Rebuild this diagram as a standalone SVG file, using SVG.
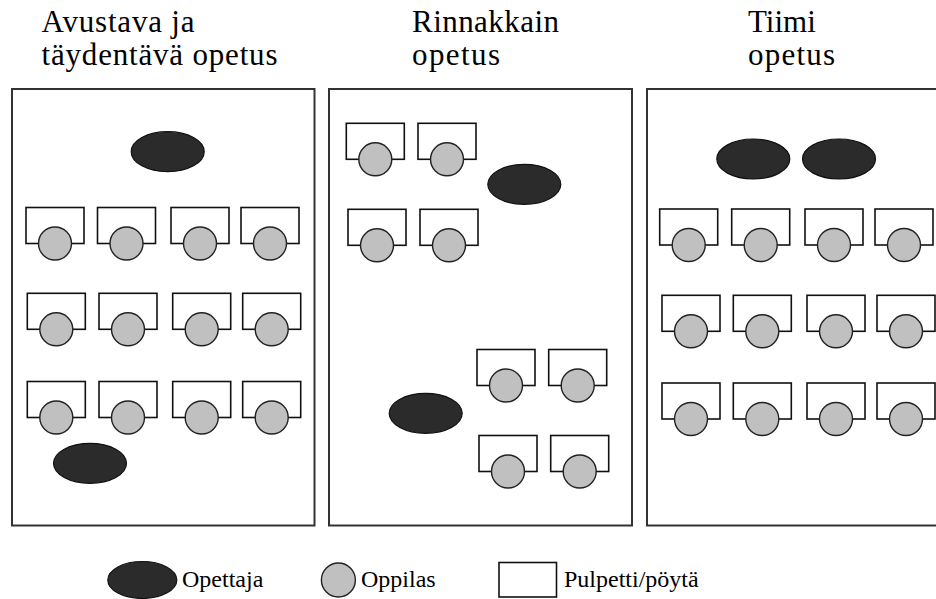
<svg xmlns="http://www.w3.org/2000/svg" xmlns:xlink="http://www.w3.org/1999/xlink" width="936" height="599" viewBox="0 0 936 599">
  <style>
    text { font-family: "Liberation Serif", "Times New Roman", serif; fill: #000; }
    .hdr { font-size: 31px; }
    .lgd { font-size: 24px; }
    .frame { fill: #fff; stroke: #333; stroke-width: 2; }
    .teacher { fill: #2b2b2b; stroke: #111; stroke-width: 1.2; }
    .desk { fill: #fff; stroke: #111; stroke-width: 1.6; }
    .pupil { fill: #c0c0c0; stroke: #222; stroke-width: 1.4; }
  </style>
  <defs>
    <g id="seat">
      <rect class="desk" x="0" y="0" width="58" height="36"/>
      <circle class="pupil" cx="29" cy="36" r="16.5"/>
    </g>
    <ellipse id="tch" class="teacher" cx="0" cy="0" rx="36.5" ry="20"/>
  </defs>
  <rect width="936" height="599" fill="#fff"/>

  <!-- Titles -->
  <g id="titles">
    <text class="hdr" x="41.5" y="31.5" textLength="153" lengthAdjust="spacing">Avustava ja</text>
    <text class="hdr" x="41.5" y="64.5" textLength="236" lengthAdjust="spacing">täydentävä opetus</text>
    <text class="hdr" x="412" y="31.5" textLength="147" lengthAdjust="spacing">Rinnakkain</text>
    <text class="hdr" x="412" y="64.5" textLength="88" lengthAdjust="spacing">opetus</text>
    <text class="hdr" x="748" y="31.5">Tiimi</text>
    <text class="hdr" x="748" y="64.5" textLength="87" lengthAdjust="spacing">opetus</text>
  </g>

  <!-- Panel 1 -->
  <g id="panel-avustava">
    <rect class="frame" x="12" y="89" width="302.5" height="436.5"/>
    <g id="p1-teacher-1"><use xlink:href="#tch" x="167.7" y="151.7"/></g>
    <g id="p1-teacher-2"><use xlink:href="#tch" x="90" y="463.3"/></g>
    <g id="p1-row1">
      <use xlink:href="#seat" x="26" y="207.5"/>
      <use xlink:href="#seat" x="97.5" y="207.5"/>
      <use xlink:href="#seat" x="171" y="207.5"/>
      <use xlink:href="#seat" x="241" y="207.5"/>
    </g>
    <g id="p1-row2">
      <use xlink:href="#seat" x="27.3" y="293.3"/>
      <use xlink:href="#seat" x="99" y="293.3"/>
      <use xlink:href="#seat" x="172.7" y="293.3"/>
      <use xlink:href="#seat" x="242.7" y="293.3"/>
    </g>
    <g id="p1-row3">
      <use xlink:href="#seat" x="27.3" y="381.5"/>
      <use xlink:href="#seat" x="99" y="381.5"/>
      <use xlink:href="#seat" x="172.7" y="381.5"/>
      <use xlink:href="#seat" x="242.7" y="381.5"/>
    </g>
  </g>

  <!-- Panel 2 -->
  <g id="panel-rinnakkain">
    <rect class="frame" x="329" y="89" width="303" height="436.5"/>
    <g id="p2-group-1">
      <use xlink:href="#seat" x="346.3" y="123.3"/>
      <use xlink:href="#seat" x="418" y="123.3"/>
      <use xlink:href="#seat" x="348" y="209.3"/>
      <use xlink:href="#seat" x="420" y="209.3"/>
    </g>
    <g id="p2-teacher-1"><use xlink:href="#tch" x="524.3" y="184.3"/></g>
    <g id="p2-group-2">
      <use xlink:href="#seat" x="477" y="349.5"/>
      <use xlink:href="#seat" x="548.7" y="349.5"/>
      <use xlink:href="#seat" x="479" y="435.5"/>
      <use xlink:href="#seat" x="550.7" y="435.5"/>
    </g>
    <g id="p2-teacher-2"><use xlink:href="#tch" x="425.7" y="413.3"/></g>
  </g>

  <!-- Panel 3 -->
  <g id="panel-tiimi">
    <rect class="frame" x="647" y="89" width="300" height="436.5"/>
    <g id="p3-teacher-1"><use xlink:href="#tch" x="753.3" y="159"/></g>
    <g id="p3-teacher-2"><use xlink:href="#tch" x="839" y="159"/></g>
    <g id="p3-row1">
      <use xlink:href="#seat" x="659.7" y="209"/>
      <use xlink:href="#seat" x="731.7" y="209"/>
      <use xlink:href="#seat" x="805" y="209"/>
      <use xlink:href="#seat" x="875" y="209"/>
    </g>
    <g id="p3-row2">
      <use xlink:href="#seat" x="662" y="295.3"/>
      <use xlink:href="#seat" x="733.3" y="295.3"/>
      <use xlink:href="#seat" x="807" y="295.3"/>
      <use xlink:href="#seat" x="877" y="295.3"/>
    </g>
    <g id="p3-row3">
      <use xlink:href="#seat" x="662" y="383"/>
      <use xlink:href="#seat" x="733.3" y="383"/>
      <use xlink:href="#seat" x="807" y="383"/>
      <use xlink:href="#seat" x="877" y="383"/>
    </g>
  </g>

  <!-- Legend -->
  <g id="legend">
    <g id="legend-teacher">
      <ellipse class="teacher" cx="142.3" cy="580" rx="34.5" ry="18.5"/>
      <text class="lgd" x="182" y="587">Opettaja</text>
    </g>
    <g id="legend-pupil">
      <circle class="pupil" cx="338.4" cy="580" r="17"/>
      <text class="lgd" x="361" y="587">Oppilas</text>
    </g>
    <g id="legend-desk">
      <rect class="desk" x="499" y="562.5" width="57.5" height="34.5"/>
      <text class="lgd" x="564" y="587">Pulpetti/pöytä</text>
    </g>
  </g>
</svg>
